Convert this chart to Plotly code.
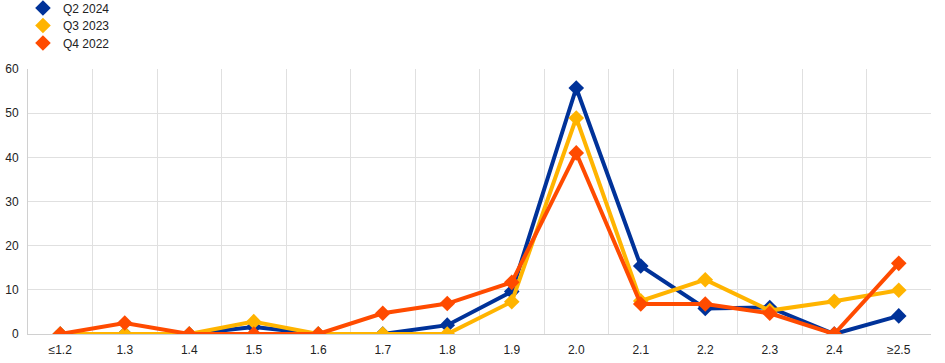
import plotly.graph_objects as go

categories = ["≤1.2", "1.3", "1.4", "1.5", "1.6", "1.7", "1.8", "1.9", "2.0", "2.1", "2.2", "2.3", "2.4", "≥2.5"]
q2_2024 = [0, 0, 0, 1.6, 0, 0, 2.0, 9.6, 55.7, 15.4, 5.8, 6.0, 0, 4.1]
q3_2023 = [0, 0, 0, 2.8, 0, 0, 0, 7.3, 48.9, 7.5, 12.3, 5.3, 7.4, 9.9]
q4_2022 = [0, 2.5, 0, 0, 0, 4.7, 6.9, 11.7, 41.0, 6.8, 6.8, 4.7, 0, 16.0]

series = [("Q2 2024", q2_2024, "#003299"), ("Q3 2023", q3_2023, "#ffb400"), ("Q4 2022", q4_2022, "#ff4b00")]
legend_ids = ["legend", "legend2", "legend3"]
legend_y = [1.285, 1.219, 1.153]

fig = go.Figure()
for name, vals, color in series:
    fig.add_trace(go.Scatter(
        x=categories, y=vals, name=name, mode="lines+markers",
        line=dict(color=color, width=4),
        marker=dict(symbol="diamond", size=12, color=color),
        showlegend=False,
    ))
for (name, vals, color), lid in zip(series, legend_ids):
    fig.add_trace(go.Scatter(
        x=[categories[0]], y=[None], name=name, mode="markers",
        marker=dict(symbol="diamond", size=12, color=color),
        showlegend=True, legend=lid,
    ))

legend_common = dict(x=0.0243, xref="container", yref="paper", xanchor="left", yanchor="top",
                     font=dict(size=12, color="#222"), itemwidth=30, bgcolor="rgba(0,0,0,0)")

fig.update_layout(
    width=945, height=363,
    margin=dict(l=28, r=14, t=69, b=29, autoexpand=False),
    plot_bgcolor="white", paper_bgcolor="white",
    font=dict(family="Liberation Sans, Arial, sans-serif", size=12, color="#222"),
    showlegend=True,
    legend=dict(y=legend_y[0], **legend_common),
    legend2=dict(y=legend_y[1], **legend_common),
    legend3=dict(y=legend_y[2], **legend_common),
    xaxis=dict(type="category", range=[-0.5, 13.5], tickson="boundaries", showgrid=True,
               gridcolor="#e0e0e0", gridwidth=1, ticklabelstandoff=5,
               showline=True, linecolor="#d0d0d0", ticks="", tickfont=dict(size=12)),
    yaxis=dict(range=[0, 60], dtick=10, showgrid=True, gridcolor="#e0e0e0", gridwidth=1,
               ticklabelstandoff=6,
               showline=True, linecolor="#d0d0d0", zeroline=False, ticks="", tickfont=dict(size=12)),
)

fig.write_html("out.html", config={"displayModeBar": False},
               post_script="document.body.style.margin='0';")
